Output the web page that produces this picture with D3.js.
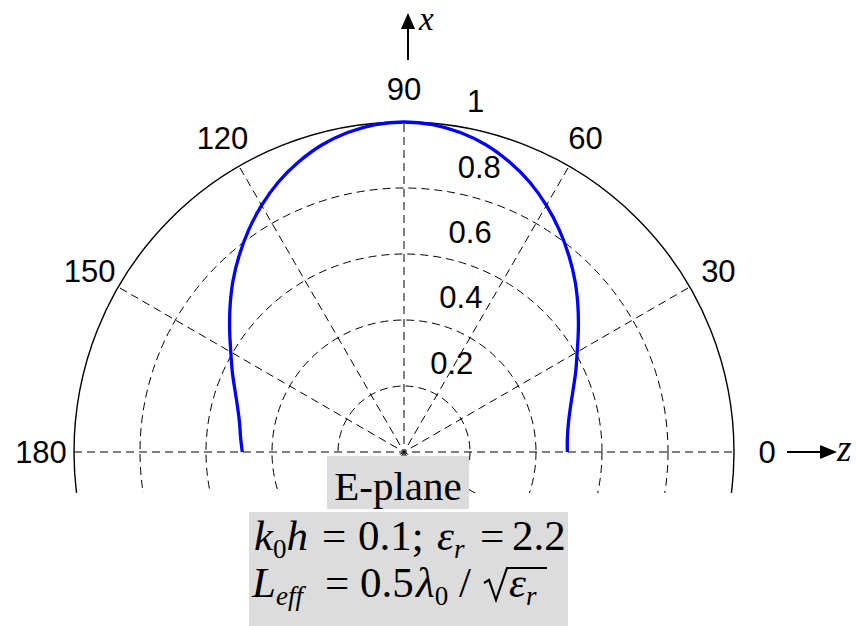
<!DOCTYPE html>
<html>
<head>
<meta charset="utf-8">
<script src="https://cdn.jsdelivr.net/npm/d3@7"></script>
<style>
  html, body { margin: 0; padding: 0; background: #fff; }
  svg { display: block; }
</style>
</head>
<body>
<svg id="chart" width="856" height="626"></svg>
<script>
// E-plane radiation pattern, angle measured from the z axis (degrees)
const patternAngles = [0, 5, 10, 15, 20, 25, 30, 35, 40, 45, 50, 55, 60, 65, 70, 75, 80, 85, 90,
  95, 100, 105, 110, 115, 120, 125, 130, 135, 140, 145, 150, 155, 160, 165, 170, 175, 180];
const patternValues = [0.495, 0.497, 0.506, 0.522, 0.545, 0.574, 0.606, 0.645, 0.688, 0.733, 0.777, 0.821, 0.863, 0.902, 0.935, 0.963, 0.983, 0.996, 1.0,
  0.996, 0.983, 0.963, 0.935, 0.902, 0.863, 0.821, 0.777, 0.733, 0.688, 0.645, 0.606, 0.574, 0.545, 0.522, 0.506, 0.497, 0.49];

// Grid definition
const ringValues = [0.2, 0.4, 0.6, 0.8];
const radialTickLabels = ["0.2", "0.4", "0.6", "0.8", "1"];
const radialTickValues = [0.2, 0.4, 0.6, 0.8, 1];
const spokeAngles = [0, 30, 60, 90, 120, 150];
const angleTickValues = [0, 30, 60, 90, 120, 150, 180];
const angleTickLabels = ["0", "30", "60", "90", "120", "150", "180"];

const svg = d3.select("#chart");
const cx = 404, cy = 452, R = 330;
const rScale = d3.scaleLinear().domain([0, 1]).range([0, R]);
const toRad = d => d * Math.PI / 180;
const px = (deg, v) => cx + rScale(v) * Math.cos(toRad(deg));
const py = (deg, v) => cy - rScale(v) * Math.sin(toRad(deg));

svg.append("rect").attr("width", 856).attr("height", 626).attr("fill", "#fff");

// the polar frame is cut off a little below the horizontal axis
svg.append("defs").append("clipPath").attr("id", "frameClip")
  .append("rect").attr("x", 0).attr("y", 0).attr("width", 856).attr("height", 493);

const grid = svg.append("g").attr("clip-path", "url(#frameClip)");

// dashed rings
grid.selectAll("circle.ring").data(ringValues).join("circle")
  .attr("class", "ring")
  .attr("cx", cx).attr("cy", cy).attr("r", d => rScale(d))
  .attr("fill", "none").attr("stroke", "#000").attr("stroke-width", 1)
  .attr("stroke-dasharray", "8,5");

// dashed spokes through the centre
grid.selectAll("line.spoke").data(spokeAngles).join("line")
  .attr("class", "spoke")
  .attr("x1", d => px(d + 180, 1)).attr("y1", d => py(d + 180, 1))
  .attr("x2", d => px(d, 1)).attr("y2", d => py(d, 1))
  .attr("stroke", "#000").attr("stroke-width", 1)
  .attr("stroke-dasharray", "8,5");

// solid outer ring
grid.append("circle")
  .attr("cx", cx).attr("cy", cy).attr("r", rScale(1))
  .attr("fill", "none").attr("stroke", "#000").attr("stroke-width", 1.4);

// radial tick labels placed along the 82 degree direction
svg.selectAll("text.rtick").data(radialTickValues).join("text")
  .attr("class", "rtick")
  .attr("x", d => px(82, d) + 17)
  .attr("y", d => py(82, d) - 24 + 11)
  .attr("font-family", "Liberation Sans, Arial, sans-serif")
  .attr("font-size", 31)
  .attr("fill", "#000")
  .text((d, i) => radialTickLabels[i]);

// angle labels on a circle of 1.1 R
svg.selectAll("text.atick").data(angleTickValues).join("text")
  .attr("class", "atick")
  .attr("x", d => px(d, 1.1))
  .attr("y", d => py(d, 1.1) + 11)
  .attr("text-anchor", "middle")
  .attr("font-family", "Liberation Sans, Arial, sans-serif")
  .attr("font-size", 31)
  .attr("fill", "#000")
  .text((d, i) => angleTickLabels[i]);

// pattern curve
const line = d3.lineRadial()
  .angle(d => toRad(90 - d[0]))
  .radius(d => rScale(d[1]))
  .curve(d3.curveCatmullRom);
svg.append("path")
  .datum(patternAngles.map((a, i) => [a, patternValues[i]]))
  .attr("transform", `translate(${cx},${cy})`)
  .attr("d", line)
  .attr("fill", "none").attr("stroke", "#0000ff").attr("stroke-width", 3.3);

// coordinate axis arrows
const serif = "Liberation Serif, Times New Roman, serif";
const ax = svg.append("g");
ax.append("line").attr("x1", 408).attr("y1", 60).attr("x2", 408).attr("y2", 27)
  .attr("stroke", "#000").attr("stroke-width", 2);
ax.append("path").attr("d", "M408,13 L401,29 L415,29 Z").attr("fill", "#000");
ax.append("text").attr("x", 419).attr("y", 30)
  .attr("font-family", serif)
  .attr("font-style", "italic").attr("font-size", 33).text("x");

ax.append("line").attr("x1", 787).attr("y1", 452).attr("x2", 822).attr("y2", 452)
  .attr("stroke", "#000").attr("stroke-width", 2);
ax.append("path").attr("d", "M837,452 L820,445 L820,459 Z").attr("fill", "#000");
ax.append("text").attr("x", 837).attr("y", 461)
  .attr("font-family", serif)
  .attr("font-style", "italic").attr("font-size", 37).text("z");

// annotation boxes
svg.append("rect").attr("x", 327).attr("y", 456).attr("width", 142).attr("height", 53).attr("fill", "#dcdcdc");
svg.append("text").attr("x", 398).attr("y", 500).attr("text-anchor", "middle")
  .attr("font-family", serif).attr("font-size", 41).text("E-plane");

svg.append("rect").attr("x", 249).attr("y", 512).attr("width", 319).attr("height", 114).attr("fill", "#dcdcdc");

const big = 43, small = 27, subShift = 8;
// a math run: list of [string, italic, subscript] pieces laid out in one text element
function mathRun(x, y, parts) {
  const t = svg.append("text").attr("x", x).attr("y", y)
    .attr("font-family", serif).attr("font-size", big);
  let down = false;
  parts.forEach(([str, italic, sub]) => {
    const dy = sub && !down ? subShift : (!sub && down ? -subShift : 0);
    down = sub;
    t.append("tspan")
      .attr("dy", dy)
      .attr("font-size", sub ? small : big)
      .attr("font-style", italic ? "italic" : "normal")
      .text(str);
  });
}
// k0h = 0.1;  εr = 2.2
const b1 = 550;
mathRun(254, b1, [["k", true, false], ["0", false, true], ["h", true, false]]);
mathRun(322, b1, [["=", false, false]]);
mathRun(358, b1, [["0.1;", false, false]]);
mathRun(437, b1, [["ε", true, false], ["r", true, true]]);
mathRun(480, b1, [["=", false, false]]);
mathRun(512, b1, [["2.2", false, false]]);
// Leff = 0.5 λ0 / √εr
const b2 = 597;
mathRun(252, b2, [["L", true, false], ["eff", true, true]]);
mathRun(325, b2, [["=", false, false]]);
mathRun(360, b2, [["0.5", false, false]]);
mathRun(416, b2, [["λ", true, false], ["0", false, true]]);
mathRun(459, b2, [["/", false, false]]);
svg.append("path").attr("d", "M484,583 L489,580 L496,600 L507,568 L547,568")
  .attr("fill", "none").attr("stroke", "#000").attr("stroke-width", 2.2);
mathRun(509, b2, [["ε", true, false], ["r", true, true]]);
</script>
</body>
</html>
